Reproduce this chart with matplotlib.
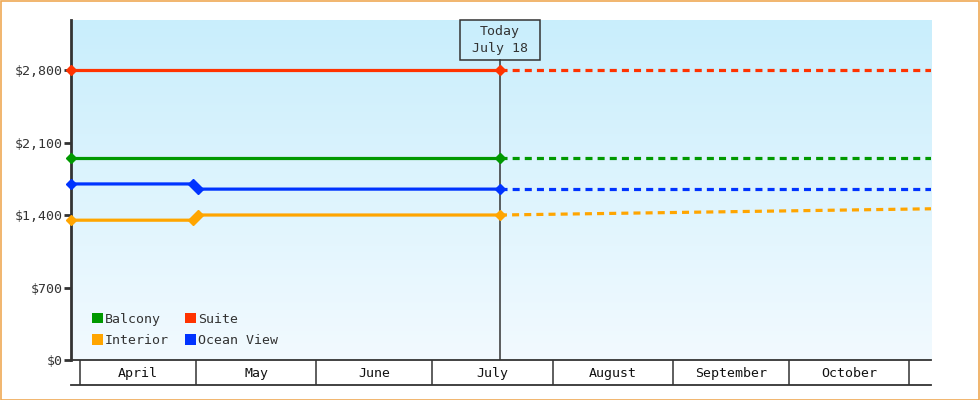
import numpy as np
import matplotlib
matplotlib.use("Agg")
import matplotlib.pyplot as plt
import matplotlib.dates as mdates
from matplotlib.colors import LinearSegmentedColormap
from matplotlib.patches import Rectangle, Patch
from matplotlib.transforms import blended_transform_factory
import datetime as dt

# ---------------- data ----------------
x_start = dt.datetime(2025, 3, 29, 16)
x_end = dt.datetime(2025, 11, 6, 17)
today = dt.datetime(2025, 7, 18, 10)
change_a = dt.datetime(2025, 4, 30, 6)
change_b = dt.datetime(2025, 5, 1, 12)

series_names = ["Balcony", "Interior", "Suite", "Ocean View"]
series_colors = ["#009900", "#ffa500", "#ff3300", "#0033ff"]

balcony_dates = [x_start, today]
balcony_vals = [1950, 1950]
balcony_fc_dates = [today, x_end]
balcony_fc_vals = [1950, 1950]

suite_dates = [x_start, today]
suite_vals = [2800, 2800]
suite_fc_dates = [today, x_end]
suite_fc_vals = [2800, 2800]

ocean_dates = [x_start, change_a, change_b, today]
ocean_vals = [1700, 1700, 1650, 1650]
ocean_fc_dates = [today, x_end]
ocean_fc_vals = [1650, 1650]

interior_dates = [x_start, change_a, change_b, today]
interior_vals = [1350, 1350, 1400, 1400]
interior_fc_dates = [today, x_end]
interior_fc_vals = [1400, 1460]

y_ticks = [0, 700, 1400, 2100, 2800]
y_tick_labels = ["$0", "$700", "$1,400", "$2,100", "$2,800"]
month_names = ["April", "May", "June", "July", "August", "September", "October"]
month_starts = [dt.datetime(2025, m, 1) for m in range(4, 12)]
today_label = "Today\nJuly 18"

# ---------------- style ----------------
FONT = "DejaVu Sans Mono"
plt.rcParams["font.family"] = [FONT]
DARK = "#333333"

fig = plt.figure(figsize=(9.8, 4.0), dpi=100)
W, H = 980, 400
ax = fig.add_axes([71 / W, 40 / H, 860 / W, 340 / H])

# gradient background
cmap = LinearSegmentedColormap.from_list("bg", ["#f2faff", "#c9eefc"])
grad = np.linspace(0, 1, 256).reshape(-1, 1)
ax.imshow(grad, cmap=cmap, extent=[0, 1, 0, 1], transform=ax.transAxes,
          aspect="auto", origin="lower", zorder=0)

xs = mdates.date2num(x_start)
xe = mdates.date2num(x_end)
ax.set_xlim(xs, xe)
ax.set_ylim(0, 3283)

lw = 2.3
dash = (0, (2.2, 1.6))
hist = [
    (balcony_dates, balcony_vals, balcony_fc_dates, balcony_fc_vals, series_colors[0]),
    (interior_dates, interior_vals, interior_fc_dates, interior_fc_vals, series_colors[1]),
    (suite_dates, suite_vals, suite_fc_dates, suite_fc_vals, series_colors[2]),
    (ocean_dates, ocean_vals, ocean_fc_dates, ocean_fc_vals, series_colors[3]),
]
for d, v, fd, fv, c in hist:
    ax.plot(mdates.date2num(fd), fv, color=c, lw=lw, linestyle=dash, zorder=3,
            solid_capstyle="butt", dash_capstyle="butt")
    ax.plot(mdates.date2num(d), v, color=c, lw=lw, marker="D", markersize=5.5,
            zorder=4, clip_on=False)

# today line and box
tnum = mdates.date2num(today)
ax.axvline(tnum, ymin=0, ymax=300 / 340, color=DARK, lw=1.1, zorder=2)
bt = blended_transform_factory(ax.transData, ax.transAxes)
half_w = 40 / 860 * (xe - xs)
ax.add_patch(Rectangle((tnum - half_w, 300 / 340), 2 * half_w, 40 / 340,
                       transform=bt, fill=False, edgecolor=DARK, lw=1.1,
                       zorder=5, clip_on=False))
ax.text(tnum, 320 / 340, today_label, transform=bt, ha="center", va="center",
        fontsize=9.5, color=DARK, linespacing=1.35, family=FONT, zorder=6)

# axes styling
for s in ["top", "right", "bottom"]:
    ax.spines[s].set_visible(False)
ax.spines["left"].set_linewidth(2)
ax.spines["left"].set_color(DARK)
ax.set_xticks([])
ax.set_yticks(y_ticks)
ax.set_yticklabels(y_tick_labels, fontsize=9.5, color=DARK, family=FONT)
ax.tick_params(axis="y", length=5, width=2, color=DARK, pad=1)

# legend
handles = [Patch(facecolor=c, edgecolor="none") for c in series_colors]
leg = ax.legend(handles, series_names, ncol=2, loc="lower left",
                bbox_to_anchor=(0.015, 0.015), frameon=False,
                prop={"family": FONT, "size": 9.5}, handlelength=0.85,
                handleheight=0.85, handletextpad=0.15, columnspacing=1.2,
                labelspacing=0.62, borderaxespad=0.2)
for t in leg.get_texts():
    t.set_color(DARK)

# month strip
ax2 = fig.add_axes([71 / W, 15 / H, 860 / W, 25 / H], sharex=ax)
ax2.set_xlim(xs, xe)
ax2.set_ylim(0, 1)
ax2.patch.set_alpha(0)
for s in ["left", "right"]:
    ax2.spines[s].set_visible(False)
ax2.spines["top"].set_color(DARK)
ax2.spines["top"].set_linewidth(1.3)
ax2.spines["bottom"].set_color(DARK)
ax2.spines["bottom"].set_linewidth(1.3)
ax2.set_xticks([])
ax2.set_yticks([])
ms = mdates.date2num(month_starts)
for m in ms:
    ax2.axvline(m, color=DARK, lw=1.1)
for i, name in enumerate(month_names):
    ax2.text((ms[i] + ms[i + 1]) / 2, 0.47, name, ha="center", va="center",
             fontsize=9.5, color="#111111", family=FONT)

# outer border
fig.patches.append(Rectangle((0.5 / W, 0.5 / H), 1 - 1.5 / W, 1 - 1.5 / H,
                             transform=fig.transFigure, fill=False,
                             edgecolor="#efa955", lw=1.2))

fig.savefig("out.png", dpi=100)
